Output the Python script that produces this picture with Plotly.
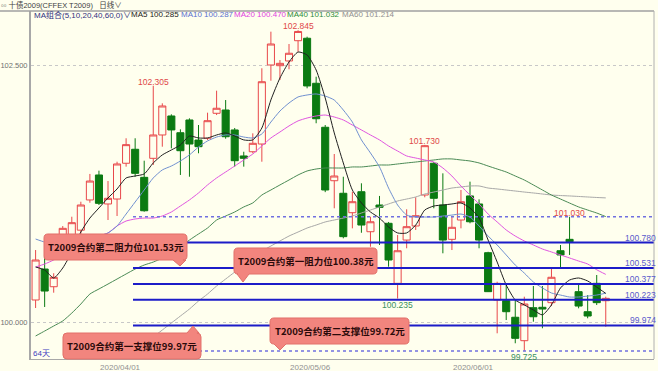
import plotly.graph_objects as go

DATES = ["2020-03-19","2020-03-20","2020-03-23","2020-03-24","2020-03-25","2020-03-26","2020-03-27","2020-03-30","2020-03-31",
         "2020-04-01","2020-04-02","2020-04-03","2020-04-07","2020-04-08","2020-04-09","2020-04-10","2020-04-13","2020-04-14",
         "2020-04-15","2020-04-16","2020-04-17","2020-04-20","2020-04-21","2020-04-22","2020-04-23","2020-04-24","2020-04-27",
         "2020-04-28","2020-04-29","2020-04-30",
         "2020-05-06","2020-05-07","2020-05-08","2020-05-11","2020-05-12","2020-05-13","2020-05-14","2020-05-15","2020-05-18",
         "2020-05-19","2020-05-20","2020-05-21","2020-05-22","2020-05-25","2020-05-26","2020-05-27","2020-05-28","2020-05-29",
         "2020-06-01","2020-06-02","2020-06-03","2020-06-04","2020-06-05","2020-06-08","2020-06-09","2020-06-10","2020-06-11",
         "2020-06-12","2020-06-15","2020-06-16","2020-06-17","2020-06-18","2020-06-19","2020-06-22"]

OPEN = [100.221,100.522,100.350,100.700,100.800,100.900,101.194,101.437,101.155,101.203,
        101.551,101.687,101.414,101.599,101.826,102.011,101.848,101.972,101.777,101.794,
        102.037,102.069,101.875,101.622,101.663,101.738,102.507,102.500,102.546,102.743,
        102.767,102.329,101.901,101.381,101.259,101.070,101.274,100.885,101.145,100.967,
        100.383,100.804,100.941,101.242,101.551,101.145,100.811,100.999,101.233,101.155,
        100.681,100.221,100.214,100.053,99.825,100.146,100.150,100.195,100.700,100.811,
        100.302,100.107,100.383,100.214]
HIGH = [100.707,100.678,100.481,100.940,101.031,101.177,101.447,101.479,101.378,101.566,
        101.794,101.794,101.576,102.305,102.134,102.027,101.881,101.988,101.923,102.043,
        102.257,102.166,101.894,101.663,101.842,102.475,102.831,102.555,102.711,102.845,
        102.782,102.393,101.923,101.641,101.420,101.274,101.356,101.031,101.233,100.980,
        100.853,101.103,101.220,101.730,101.563,101.453,101.031,101.291,101.372,101.200,
        100.690,100.399,100.376,100.221,100.253,100.357,100.357,100.539,100.756,101.030,
        100.367,100.269,100.464,100.253]
LOW = [100.143,100.153,100.292,100.640,100.750,100.860,101.167,101.145,100.999,101.038,
       101.518,101.420,101.080,101.534,101.712,101.696,101.437,101.420,101.648,101.777,
       102.020,101.790,101.518,101.518,101.648,101.566,102.354,102.361,102.465,102.636,
       102.280,101.940,101.270,101.113,100.821,100.918,100.875,100.739,100.756,100.545,
       100.235,100.724,100.902,101.220,101.113,100.675,100.707,100.918,100.967,100.724,
       100.300,99.897,100.026,99.800,99.725,100.010,99.946,100.162,100.539,100.659,
       100.140,100.043,100.172,99.961]
CLOSE = [100.610,100.308,100.442,100.918,100.973,101.145,101.378,101.161,101.210,101.544,
         101.732,101.453,101.089,101.826,102.108,101.875,101.673,101.738,101.712,101.965,
         102.086,101.809,101.576,101.599,101.745,102.344,102.711,102.523,102.621,102.833,
         102.303,101.984,101.291,101.427,100.837,101.177,100.950,100.982,101.122,100.610,
         100.700,100.934,101.041,101.722,101.210,100.804,100.928,101.177,100.982,100.804,
         100.302,100.383,100.107,99.848,100.182,100.058,100.133,100.442,100.659,100.788,
         100.162,100.065,100.195,100.237]

MA5 = [100.542,100.513,100.435,100.532,100.688,100.882,101.018,101.116,101.213,101.301,
       101.408,101.427,101.447,101.554,101.632,101.680,101.729,101.816,101.797,101.797,
       101.826,101.846,101.816,101.778,101.778,101.894,102.167,102.380,102.536,102.633,
       102.604,102.458,102.186,101.846,101.554,101.291,101.165,101.077,101.018,100.931,
       100.873,100.873,100.950,101.096,101.135,101.145,101.155,101.165,101.116,101.018,
       100.804,100.590,100.367,100.221,100.173,100.124,100.076,100.173,100.338,100.415,
       100.435,100.406,100.347,100.285]
MA10 = [100.814,100.785,100.776,100.776,100.795,100.804,100.824,100.843,100.873,100.941,
        101.057,101.174,101.291,101.408,101.486,101.524,101.573,101.632,101.709,101.768,
        101.806,101.826,101.826,101.806,101.797,101.836,101.952,102.059,102.137,102.196,
        102.215,102.225,102.205,102.166,102.069,101.952,101.778,101.651,101.515,101.310,
        101.145,101.047,101.028,101.028,101.028,101.038,101.047,101.057,101.028,100.941,
        100.843,100.756,100.659,100.561,100.483,100.396,100.338,100.289,100.269,100.250,
        100.250,100.259,100.269,100.287]
MA20 = [100.542,100.571,100.610,100.659,100.707,100.756,100.804,100.843,100.873,100.941,
        100.989,101.009,101.018,101.018,101.038,101.077,101.135,101.194,101.262,101.340,
        101.408,101.466,101.524,101.583,101.641,101.719,101.797,101.855,101.914,101.963,
        101.991,102.011,102.020,102.001,101.972,101.923,101.875,101.826,101.778,101.719,
        101.670,101.622,101.602,101.583,101.563,101.505,101.427,101.330,101.242,101.155,
        101.057,100.980,100.902,100.843,100.795,100.756,100.717,100.688,100.659,100.630,
        100.600,100.571,100.515,100.470]
MA40 = [99.871,99.919,99.968,100.017,100.094,100.182,100.279,100.328,100.376,100.425,
        100.474,100.522,100.561,100.590,100.629,100.688,100.736,100.804,100.863,100.921,
        100.999,101.038,101.077,101.126,101.165,101.242,101.291,101.340,101.388,101.437,
        101.476,101.495,101.505,101.505,101.505,101.515,101.515,101.524,101.534,101.534,
        101.544,101.554,101.563,101.573,101.583,101.593,101.593,101.583,101.573,101.554,
        101.524,101.495,101.466,101.427,101.388,101.340,101.291,101.242,101.203,101.164,
        101.126,101.096,101.067,101.032]
MA60 = [None] * 13 + [
        99.861,99.929,99.997,100.065,100.133,100.211,100.279,100.357,100.425,100.493,
        100.571,100.639,100.697,100.746,100.795,100.843,100.882,100.921,100.950,100.980,
        100.999,101.018,101.038,101.067,101.096,101.126,101.155,101.184,101.203,101.223,
        101.252,101.271,101.291,101.310,101.320,101.330,101.330,101.310,101.301,101.291,
        101.281,101.271,101.262,101.252,101.242,101.237,101.233,101.228,101.223,101.218,
        101.214]

TICK_DATES = ["2020-04-01", "2020-05-06", "2020-06-01"]
Y_TICKS = [100.0, 102.5]
LEVELS = [100.780, 100.531, 100.377, 100.223, 99.974]
DOTTED_LEVELS = [101.030, 99.725]
HIGH_MARK_IDX = [13, 29, 43, 59]
LOW_MARK_IDX = [40, 54]
CALLOUT_TEXTS = ["T2009合约第二阻力位101.53元", "T2009合约第一阻力位100.38元",
                 "T2009合约第一支撑位99.97元", "T2009合约第二支撑位99.72元"]

# ---- style / layout ----
W, H = 658, 371
L, R, T, B = 31, 4, 11, 12
PW, PH = W - L - R, H - T - B
BG = "#FFFFEE"
RED = "#E8484A"
GREEN = "#0B7A12"
FONT = "Liberation Sans, Noto Sans CJK SC, sans-serif"
CJK = "Noto Sans CJK SC, sans-serif"

def px(x):
    return (x - L) / PW

def py(y):
    return (H - B - y) / PH

def P(x, y):
    return f"{px(x):.5f},{py(y):.5f}"

def callout(x0, y0, x1, y1, side, bx0, bx1, tx, ty, r=4):
    s = f"M{P(x0 + r, y0)}"
    if side == "top":
        s += f" L{P(bx0, y0)} L{P(tx, ty)} L{P(bx1, y0)}"
    s += f" L{P(x1 - r, y0)} Q{P(x1, y0)} {P(x1, y0 + r)}"
    s += f" L{P(x1, y1 - r)} Q{P(x1, y1)} {P(x1 - r, y1)}"
    if side == "bottom":
        s += f" L{P(bx1, y1)} L{P(tx, ty)} L{P(bx0, y1)}"
    s += f" L{P(x0 + r, y1)} Q{P(x0, y1)} {P(x0, y1 - r)}"
    s += f" L{P(x0, y0 + r)} Q{P(x0, y0)} {P(x0 + r, y0)} Z"
    return s

CALLOUT_GEOM = [
    (44, 234, 187, 260, "bottom", 173, 186, 180, 266),
    (234, 248, 377, 274, "bottom", 237, 249, 243, 282),
    (63, 333, 201, 359, "top", 187, 199, 193, 326),
    (270, 318, 409, 344, "bottom", 274, 286, 280, 350),
]

X = list(range(len(DATES)))

fig = go.Figure()
fig.add_trace(go.Candlestick(
    x=X, open=OPEN, high=HIGH, low=LOW, close=CLOSE,
    increasing=dict(line=dict(color=RED, width=1), fillcolor=BG),
    decreasing=dict(line=dict(color=GREEN, width=1), fillcolor=GREEN),
    whiskerwidth=0, showlegend=False, hoverinfo="skip"))

for vals, col in [(MA60, "#A8A8A8"), (MA40, "#4A8A55"), (MA20, "#E055E0"),
                  (MA10, "#7090D0"), (MA5, "#202020")]:
    fig.add_trace(go.Scatter(x=X, y=vals, mode="lines", line=dict(color=col, width=1, shape="spline", smoothing=0.6),
                             showlegend=False, hoverinfo="skip", connectgaps=False))

shapes = []
for lv in DOTTED_LEVELS:
    shapes.append(dict(type="line", xref="paper", yref="y", x0=px(133), x1=1, y0=lv, y1=lv,
                       line=dict(color="#7070E0", width=1.5, dash="dot"), layer="above"))
for lv in LEVELS:
    shapes.append(dict(type="line", xref="paper", yref="y", x0=px(133), x1=1, y0=lv, y1=lv,
                       line=dict(color="#1C1CC8", width=2), layer="above"))
for g in CALLOUT_GEOM:
    shapes.append(dict(type="path", xref="paper", yref="paper", path=callout(*g),
                       fillcolor="#F2857E", line=dict(color="#E2706A", width=1), layer="above"))
# frame lines
shapes.append(dict(type="line", xref="paper", yref="paper", x0=px(0), x1=1, y0=1, y1=1,
                   line=dict(color="#A0A0A0", width=1.5), layer="above"))
shapes.append(dict(type="line", xref="paper", yref="paper", x0=1, x1=1, y0=0, y1=1,
                   line=dict(color="#B0B0B0", width=1), layer="above"))

ann = []
for t, g in zip(CALLOUT_TEXTS, CALLOUT_GEOM):
    x0, y0, x1, y1 = g[:4]
    ann.append(dict(xref="paper", yref="paper", x=px((x0 + x1) / 2), y=py((y0 + y1) / 2),
                    text=f"<b>{t}</b>", showarrow=False, xanchor="center", yanchor="middle",
                    font=dict(family=CJK, size=9.5, color="#2A0A0A")))
for lv in LEVELS:
    ann.append(dict(xref="paper", yref="y", x=1.006, y=lv, text=f"{lv:.3f}", showarrow=False,
                    xanchor="right", yanchor="middle", yshift=5,
                    font=dict(family=FONT, size=8.5, color="#5A5ACC")))
for i in HIGH_MARK_IDX:
    ann.append(dict(xref="x", yref="y", x=X[i], y=HIGH[i], text=f"{HIGH[i]:.3f}", showarrow=False,
                    xanchor="center", yanchor="bottom", yshift=-2, borderpad=0,
                    font=dict(family=FONT, size=8.5, color="#E04848")))
for i in LOW_MARK_IDX:
    ann.append(dict(xref="x", yref="y", x=X[i], y=LOW[i], text=f"{LOW[i]:.3f}", showarrow=False,
                    xanchor="center", yanchor="top", yshift=1,
                    font=dict(family=FONT, size=8.5, color="#3A9060")))
# header texts
ann.append(dict(xref="paper", yref="paper", x=px(-1), y=py(5), text="▫▫ 十债2009(CFFEX T2009)   日线∨",
                showarrow=False, xanchor="left", yanchor="middle",
                font=dict(family=FONT, size=7.5, color="#404040")))
legend_items = [
    (33, "MA组合(5,10,20,40,60,0)∨", "#303080"),
    (130, f"MA5 {MA5[-1]:.3f}", "#202020"),
    (180, f"MA10 {MA10[-1]:.3f}", "#5A70D0"),
    (233, f"MA20 {MA20[-1]:.3f}", "#E040E0"),
    (286, f"MA40 {MA40[-1]:.3f}", "#2E8B3A"),
    (341, f"MA60 {MA60[-1]:.3f}", "#909090"),
]
for x, t, c in legend_items:
    ann.append(dict(xref="paper", yref="paper", x=px(x), y=py(15), text=t, showarrow=False, borderpad=0,
                    xanchor="left", yanchor="middle", font=dict(family=FONT, size=8, color=c)))
ann.append(dict(xref="paper", yref="paper", x=px(31), y=py(353), text="64天", showarrow=False,
                xanchor="left", yanchor="middle", font=dict(family=FONT, size=8, color="#4040C0")))

tick_idx = [DATES.index(d) for d in TICK_DATES]

fig.update_layout(
    width=W, height=H, margin=dict(l=L, r=R, t=T, b=B, autoexpand=False),
    paper_bgcolor=BG, plot_bgcolor=BG, boxgap=0.15, boxgroupgap=0.08,
    shapes=shapes, annotations=ann, showlegend=False, hovermode=False,
    xaxis=dict(range=[-0.508, 68.33], rangeslider=dict(visible=False), showgrid=False, zeroline=False,
               tickmode="array", tickvals=tick_idx, ticktext=[d.replace("-", "/") for d in TICK_DATES],
               tickfont=dict(family=FONT, size=8, color="#909090"), ticks="", ticklabelshift=3,
               showline=True, linecolor="#A8A8A8", linewidth=1, automargin=False),
    yaxis=dict(range=[99.647, 103.032], showgrid=True, gridcolor="#C8C8C8", griddash="dot", gridwidth=1,
               zeroline=False, tickmode="array", tickvals=Y_TICKS, ticktext=[f"{v:.3f}" for v in Y_TICKS],
               tickfont=dict(family=FONT, size=7.5, color="#707070"), ticks="",
               showline=True, linecolor="#A8A8A8", linewidth=2, automargin=False),
)

fig.write_html("out.html")
